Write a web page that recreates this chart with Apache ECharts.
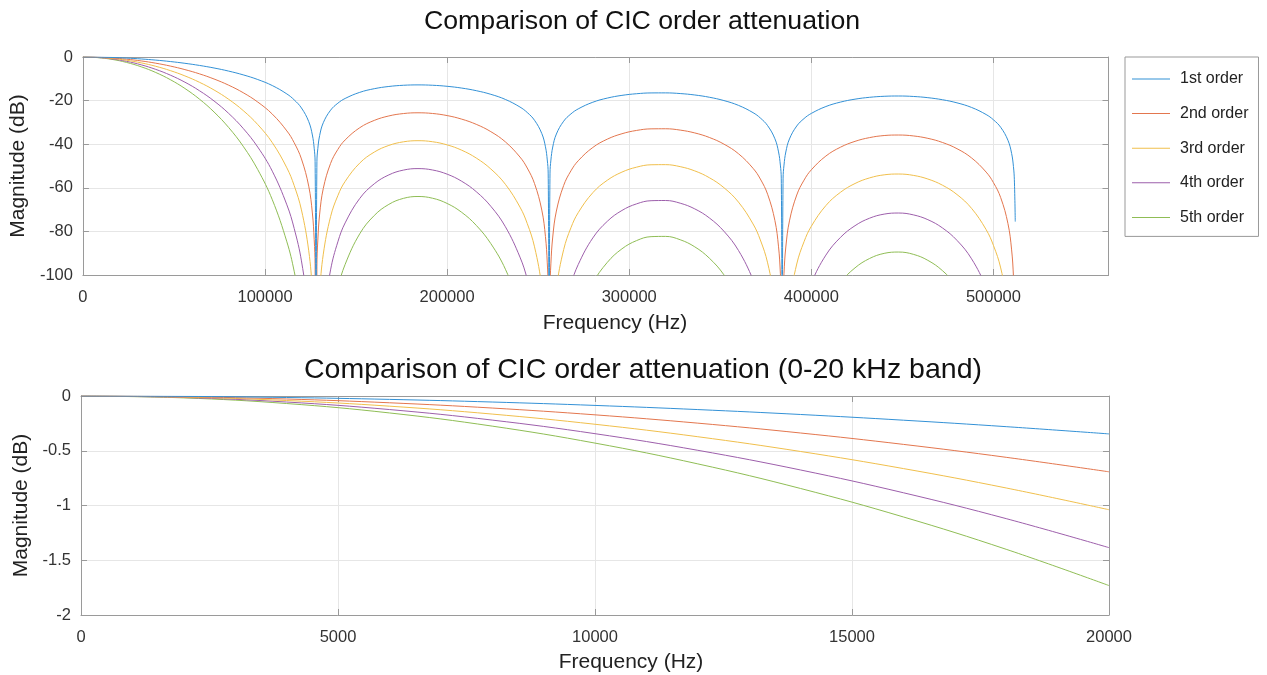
<!DOCTYPE html>
<html><head><meta charset="utf-8">
<script src="https://cdn.jsdelivr.net/npm/echarts@6/dist/echarts.min.js"></script>
<style>html,body{margin:0;padding:0;background:#fff}#c{width:1267px;height:675px}</style>
</head><body><div id="c"></div>
<script>
const seriesNames = ['1st order', '2nd order', '3rd order', '4th order', '5th order'];
const colors = ['#3391d6', '#e3764e', '#f0bf4c', '#9d5fab', '#8fbd55'];

const topTitle = 'Comparison of CIC order attenuation';
const lowTitle = 'Comparison of CIC order attenuation (0-20 kHz band)';
const xName = 'Frequency (Hz)';
const yName = 'Magnitude (dB)';

const topXTicks = [0, 100000, 200000, 300000, 400000, 500000];
const topYTicks = [0, -20, -40, -60, -80, -100];
const lowXTicks = [0, 5000, 10000, 15000, 20000];
const lowYTicks = [0, -0.5, -1, -1.5, -2];

const freqTop = [0,8000,16000,24000,32000,40000,48000,56000,64000,72000,80000,88000,96000,104000,112000,116000,120000,124000,126000,127000,127500,128000,128500,129000,130000,132000,136000,140000,144000,152000,160000,168000,176000,184000,192000,200000,208000,216000,224000,232000,240000,244000,248000,252000,254000,255000,255500,256000,256500,257000,258000,260000,264000,268000,272000,280000,288000,296000,304000,312000,320000,328000,336000,344000,352000,360000,368000,372000,376000,380000,382000,383000,383500,384000,384500,385000,386000,388000,392000,396000,400000,408000,416000,424000,432000,440000,448000,456000,464000,472000,480000,488000,496000,500000,504000,508000,510000,511000,511500,512000];

const order1 = [0,-0.055,-0.22,-0.5,-0.9,-1.42,-2.08,-2.89,-3.87,-5.04,-6.46,-8.19,-10.33,-13.1,-16.95,-19.65,-23.38,-29.63,-35.77,-41.86,-47.91,-120,-47.97,-41.99,-36.03,-30.15,-24.41,-21.19,-19.02,-16.22,-14.54,-13.52,-12.97,-12.8,-12.96,-13.44,-14.25,-15.45,-17.12,-19.47,-22.95,-25.46,-29.03,-35.12,-41.18,-47.23,-53.26,-120,-53.29,-47.28,-41.29,-35.33,-29.45,-26.1,-23.8,-20.75,-18.84,-17.6,-16.85,-16.48,-16.46,-16.77,-17.42,-18.46,-19.98,-22.19,-25.53,-27.98,-31.48,-37.5,-43.54,-49.57,-55.59,-120,-55.6,-49.59,-43.58,-37.59,-31.65,-28.24,-25.88,-22.72,-20.69,-19.34,-18.49,-18.02,-17.89,-18.1,-18.66,-19.6,-21.03,-23.14,-26.39,-28.8,-32.25,-38.24,-44.25,-50.26,-56.28,-75.5];
const order2 = [0,-0.11,-0.44,-1.0,-1.8,-2.84,-4.16,-5.78,-7.73,-10.09,-12.92,-16.37,-20.66,-26.19,-33.91,-39.3,-46.76,-59.26,-71.55,-83.71,-95.82,-240,-95.95,-83.97,-72.06,-60.29,-48.82,-42.39,-38.05,-32.45,-29.08,-27.04,-25.94,-25.59,-25.91,-26.87,-28.5,-30.89,-34.24,-38.94,-45.89,-50.93,-58.06,-70.24,-82.36,-94.45,-106.52,-240,-106.57,-94.56,-82.58,-70.66,-58.91,-52.21,-47.6,-41.5,-37.67,-35.2,-33.69,-32.96,-32.92,-33.53,-34.83,-36.91,-39.96,-44.37,-51.06,-55.96,-62.96,-75.01,-87.07,-99.13,-111.18,-240,-111.2,-99.17,-87.16,-75.18,-63.31,-56.49,-51.76,-45.43,-41.38,-38.69,-36.97,-36.03,-35.79,-36.2,-37.31,-39.2,-42.06,-46.29,-52.79,-57.6,-64.51,-76.47,-88.49,-100.53,-112.57,-151];
const order3 = [0,-0.17,-0.66,-1.5,-2.69,-4.26,-6.24,-8.67,-11.6,-15.13,-19.38,-24.56,-30.99,-39.29,-50.86,-58.95,-70.14,-88.89,-107.32,-125.57,-143.73,-360,-143.92,-125.96,-108.09,-90.44,-73.23,-63.58,-57.07,-48.67,-43.62,-40.56,-38.91,-38.39,-38.87,-40.31,-42.75,-46.34,-51.36,-58.4,-68.84,-76.39,-87.08,-105.35,-123.55,-141.68,-159.78,-360,-159.86,-141.84,-123.87,-105.99,-88.36,-78.31,-71.4,-62.25,-56.51,-52.8,-50.54,-49.44,-49.38,-50.3,-52.25,-55.37,-59.94,-66.56,-76.58,-83.93,-94.43,-112.51,-130.61,-148.7,-166.77,-360,-166.8,-148.76,-130.74,-112.77,-94.96,-84.73,-77.65,-68.15,-62.07,-58.03,-55.46,-54.05,-53.68,-54.3,-55.97,-58.8,-63.09,-69.43,-79.18,-86.4,-96.76,-114.71,-132.74,-150.79,-168.85,-226.5];
const order4 = [0,-0.22,-0.88,-2.0,-3.59,-5.68,-8.32,-11.55,-15.47,-20.17,-25.84,-32.74,-41.31,-52.39,-67.82,-78.6,-93.52,-118.52,-143.09,-167.43,-191.63,-480,-191.89,-167.94,-144.12,-120.58,-97.65,-84.78,-76.1,-64.9,-58.16,-54.08,-51.88,-51.19,-51.83,-53.74,-57.0,-61.78,-68.48,-77.87,-91.79,-101.85,-116.11,-140.47,-164.73,-188.91,-213.04,-480,-213.15,-189.12,-165.15,-141.32,-117.82,-104.41,-95.2,-83.01,-75.34,-70.4,-67.38,-65.92,-65.83,-67.06,-69.67,-73.82,-79.92,-88.75,-102.11,-111.91,-125.91,-150.01,-174.14,-198.26,-222.36,-480,-222.41,-198.35,-174.32,-150.37,-126.62,-112.97,-103.53,-90.87,-82.76,-77.38,-73.94,-72.07,-71.57,-72.41,-74.62,-78.4,-84.12,-92.57,-105.58,-115.2,-129.02,-152.94,-176.98,-201.06,-225.14,-302];
const order5 = [0,-0.28,-1.1,-2.5,-4.49,-7.11,-10.4,-14.44,-19.33,-25.22,-32.31,-40.93,-51.64,-65.48,-84.77,-98.25,-116.9,-148.15,-178.86,-209.28,-239.54,-600,-239.86,-209.93,-180.15,-150.73,-122.06,-105.97,-95.12,-81.12,-72.7,-67.6,-64.85,-63.99,-64.78,-67.18,-71.25,-77.23,-85.6,-97.34,-114.73,-127.32,-145.14,-175.59,-205.91,-236.13,-266.3,-600,-266.43,-236.4,-206.44,-176.65,-147.27,-130.52,-119.0,-103.76,-94.18,-88.0,-84.23,-82.41,-82.29,-83.83,-87.08,-92.28,-99.9,-110.93,-127.64,-139.89,-157.39,-187.52,-217.68,-247.83,-277.95,-600,-278.01,-247.94,-217.9,-187.96,-158.27,-141.22,-129.41,-113.59,-103.45,-96.72,-92.43,-90.08,-89.47,-90.51,-93.28,-98.0,-105.15,-115.72,-131.97,-144.0,-161.27,-191.18,-221.23,-251.32,-281.42,-377.5];

const freqLow = [0,2000,4000,6000,8000,10000,12000,14000,16000,18000,20000];
const low1 = [0,-0.0034,-0.0137,-0.0309,-0.0550,-0.0860,-0.1240,-0.1689,-0.2209,-0.2800,-0.3462];
const low2 = [0,-0.0069,-0.0275,-0.0619,-0.1100,-0.1720,-0.2480,-0.3379,-0.4418,-0.5600,-0.6924];
const low3 = [0,-0.0103,-0.0412,-0.0928,-0.1650,-0.2581,-0.3719,-0.5068,-0.6627,-0.8400,-1.0386];
const low4 = [0,-0.0137,-0.0550,-0.1237,-0.2200,-0.3441,-0.4959,-0.6757,-0.8837,-1.1200,-1.3849];
const low5 = [0,-0.0172,-0.0687,-0.1546,-0.2751,-0.4301,-0.6199,-0.8447,-1.1046,-1.4000,-1.7311];

const topOrders = [order1, order2, order3, order4, order5];
const lowOrders = [low1, low2, low3, low4, low5];

const FONT = 'Liberation Sans, Arial, Helvetica, sans-serif';
const frameColor = '#9a9a9a';
const gridColor = '#e6e6e6';
const labelColor = '#333';

function pairs(xs, ys) { return xs.map((x, i) => [x, ys[i]]); }
function tickFmt(list) { return v => (list.indexOf(v) >= 0 ? String(v) : ''); }

function mainX(grid, min, max, interval, ticks) {
  return {
    type: 'value', gridIndex: grid, min: min, max: max, interval: interval, position: 'bottom',
    axisLine: { show: true, onZero: false, lineStyle: { color: frameColor, width: 1 } },
    axisTick: { show: true, inside: true, length: 6, lineStyle: { color: frameColor } },
    axisLabel: { color: labelColor, fontFamily: FONT, fontSize: 16.5, margin: 14, formatter: tickFmt(ticks) },
    splitLine: { show: true, lineStyle: { color: gridColor, width: 1 } }
  };
}
function sideX(grid, min, max, interval) {
  return {
    type: 'value', gridIndex: grid, min: min, max: max, interval: interval, position: 'top',
    axisLine: { show: true, onZero: false, lineStyle: { color: frameColor, width: 1 } },
    axisTick: { show: true, inside: true, length: 6, lineStyle: { color: frameColor } },
    axisLabel: { show: false }, splitLine: { show: false }
  };
}
function mainY(grid, min, max, interval, ticks) {
  return {
    type: 'value', gridIndex: grid, min: min, max: max, interval: interval, position: 'left',
    name: yName, nameLocation: 'middle', nameGap: 48, nameRotate: 90,
    nameTextStyle: { fontFamily: FONT, fontSize: 21, color: '#222' },
    axisLine: { show: true, onZero: false, lineStyle: { color: frameColor, width: 1 } },
    axisTick: { show: true, inside: true, length: 6, lineStyle: { color: frameColor } },
    axisLabel: { color: labelColor, fontFamily: FONT, fontSize: 16.5, margin: 10, formatter: tickFmt(ticks) },
    splitLine: { show: true, lineStyle: { color: gridColor, width: 1 } }
  };
}
function sideY(grid, min, max, interval) {
  return {
    type: 'value', gridIndex: grid, min: min, max: max, interval: interval, position: 'right',
    axisLine: { show: true, onZero: false, lineStyle: { color: frameColor, width: 1 } },
    axisTick: { show: true, inside: true, length: 6, lineStyle: { color: frameColor } },
    axisLabel: { show: false }, splitLine: { show: false }
  };
}

const series = [];
seriesNames.forEach((name, i) => {
  series.push({
    name: name, type: 'line', xAxisIndex: 0, yAxisIndex: 0,
    data: pairs(freqTop, topOrders[i]), symbol: 'none', smooth: 0.4, clip: true,
    lineStyle: { color: colors[i], width: 1 }, itemStyle: { color: colors[i] }, z: 10 - i
  });
});
seriesNames.forEach((name, i) => {
  series.push({
    name: name, type: 'line', xAxisIndex: 2, yAxisIndex: 2,
    data: pairs(freqLow, lowOrders[i]), symbol: 'none', smooth: 0.4, clip: true,
    lineStyle: { color: colors[i], width: 1 }, itemStyle: { color: colors[i] }, z: 10 - i
  });
});

const chart = echarts.init(document.getElementById('c'), null, { renderer: 'canvas' });
chart.setOption({
  backgroundColor: '#fff',
  animation: false,
  textStyle: { fontFamily: FONT },
  title: [
    { text: topTitle, left: 642, top: 8, textAlign: 'center', padding: 0,
      textStyle: { fontFamily: FONT, fontSize: 26.7, fontWeight: 'normal', color: '#111' } },
    { text: lowTitle, left: 643, top: 356, textAlign: 'center', padding: 0,
      textStyle: { fontFamily: FONT, fontSize: 28.5, fontWeight: 'normal', color: '#111' } },
    { text: xName, left: 615, top: 313, textAlign: 'center', padding: 0,
      textStyle: { fontFamily: FONT, fontSize: 21, fontWeight: 'normal', color: '#222' } },
    { text: xName, left: 631, top: 652, textAlign: 'center', padding: 0,
      textStyle: { fontFamily: FONT, fontSize: 21, fontWeight: 'normal', color: '#222' } }
  ],
  legend: {
    data: seriesNames, orient: 'vertical', left: 1125, top: 57,
    icon: 'rect', itemWidth: 38, itemHeight: 1, itemGap: 18.6,
    padding: [14, 10, 11, 7],
    borderColor: '#999', borderWidth: 1, backgroundColor: '#fff',
    textStyle: { fontFamily: FONT, fontSize: 16, color: '#222', padding: [0, 0, 0, 5] }
  },
  grid: [
    { left: 81, top: 57, width: 1027.5, height: 218, show: false, containLabel: false },
    { left: 81, top: 396, width: 1028, height: 219, show: false, containLabel: false }
  ],
  xAxis: [
    mainX(0, 0, 563200, 100000, topXTicks),
    sideX(0, 0, 563200, 100000),
    mainX(1, 0, 20000, 5000, lowXTicks),
    sideX(1, 0, 20000, 5000)
  ],
  yAxis: [
    mainY(0, -100, 0, 20, topYTicks),
    sideY(0, -100, 0, 20),
    mainY(1, -2, 0, 0.5, lowYTicks),
    sideY(1, -2, 0, 0.5)
  ],
  series: series
});
</script>
</body></html>
